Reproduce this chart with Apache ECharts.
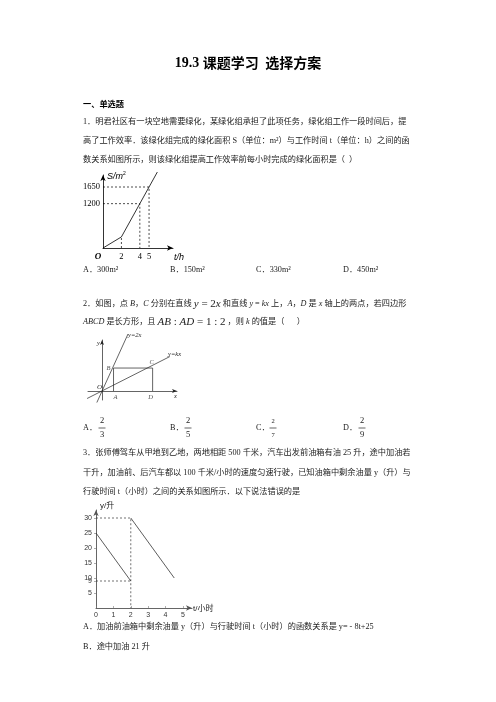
<!DOCTYPE html>
<html><head><meta charset="utf-8">
<script src="https://cdn.jsdelivr.net/npm/echarts@6/dist/echarts.min.js"></script>
<style>html,body{margin:0;padding:0;background:#fff}#c{width:496px;height:702px}</style>
</head><body><div id="c"></div>
<script>
// ---- Question 1 chart: S (m²) vs t (h)
const q1Hours = [0, 2, 4, 5, 5.9];
const q1Area = [0, 300, 1200, 1650, 2055];
const q1XTicks = [2, 4, 5];
const q1YTicks = [1200, 1650];
// ---- Question 2 figure
const q2LineY2xX = [-0.45, 2.26];
const q2LineY2xY = [-1.0, 4.96];
const q2LineYkxX = [-1.3, 5.9];
const q2LineYkxY = [-0.65, 3.0];
const q2PointNames = ['A', 'B', 'C', 'D'];
const q2PointX = [1, 1, 4.4, 4.4];
const q2PointY = [0, 2, 2, 0];
// ---- Question 3 chart: fuel y (升) vs time t (小时)
const q3HoursBefore = [0, 2];
const q3FuelBefore = [25, 9];
const q3HoursAfter = [2, 4.5];
const q3FuelAfter = [30, 10];
const q3XTicks = [0, 1, 2, 3, 4, 5];
const q3YTicks = [5, 9, 10, 15, 20, 25, 30];

const BODY = "'Liberation Serif','Noto Sans CJK SC'";
const CJK = "'Noto Sans CJK SC'";
const FS = 8.2;
const TXT = '#222';

function txt(x, y, text, extra) {
  return Object.assign({ type: 'text', x: x, y: y, silent: true,
    style: Object.assign({ text: text, fontSize: FS, fontFamily: BODY, fill: TXT, verticalAlign: 'middle', align: 'left' }, extra || {}) });
}
const richBase = {
  n: { fontSize: FS, fontFamily: BODY, fill: TXT },
  i: { fontSize: FS, fontFamily: "'Liberation Serif'", fontStyle: 'italic', fill: TXT },
  f: { fontSize: 11, fontFamily: "'Liberation Serif'", fontStyle: 'italic', fill: TXT },
  g: { fontSize: 11, fontFamily: "'Liberation Serif'", fill: TXT }
};
function rich(x, y, text) {
  return { type: 'text', x: x, y: y, silent: true,
    style: { text: text, rich: richBase, verticalAlign: 'middle', align: 'left', fontSize: FS, fontFamily: BODY, fill: TXT } };
}
function frac(cx, cy, num, den, size) {
  const s = size || 8.5;
  return [
    txt(cx, cy - 7, num, { align: 'center', fontSize: s, fontFamily: "'Liberation Serif'" }),
    { type: 'line', silent: true, shape: { x1: cx - 3.5, y1: cy, x2: cx + 3.5, y2: cy }, style: { stroke: TXT, lineWidth: 0.7 } },
    txt(cx, cy + 7, den, { align: 'center', fontSize: s, fontFamily: "'Liberation Serif'" })
  ];
}

const graphics = [
  { type: 'text', x: 248, y: 63, silent: true,
    style: { text: '{a|19.3 }{b|课题学习  选择方案}', align: 'center', verticalAlign: 'middle',
      rich: { a: { fontSize: 14, fontWeight: 'bold', fontFamily: "'Liberation Serif'", fill: '#000' },
              b: { fontSize: 14, fontWeight: 'bold', fontFamily: CJK, fill: '#000' } } } },
  txt(83, 104, '一、单选题', { fontWeight: 'bold', fontFamily: CJK, fill: '#000' }),
  txt(83, 121.5, '1．明君社区有一块空地需要绿化，某绿化组承担了此项任务，绿化组工作一段时间后，提'),
  txt(83, 140.5, '高了工作效率．该绿化组完成的绿化面积 S（单位：m²）与工作时间 t（单位：h）之间的函'),
  txt(83, 160, '数关系如图所示，则该绿化组提高工作效率前每小时完成的绿化面积是（  ）'),
  // chart 1 decorations
  txt(98, 257, 'O', { fontStyle: 'italic', fontWeight: 'bold', fontFamily: "'Liberation Serif'", fontSize: 9, align: 'center', fill: '#000' }),
  { type: 'text', x: 107, y: 176, silent: true, style: { text: '{s|S/m}{p|2}', verticalAlign: 'middle',
      rich: { s: { fontSize: 9, fontStyle: 'italic', fontFamily: "'Liberation Sans'", fill: '#000' },
              p: { fontSize: 5, fontFamily: "'Liberation Sans'", fill: '#000', verticalAlign: 'top', padding: [0, 0, 5, 0] } } } },
  txt(174, 257, 't/h', { fontStyle: 'italic', fontFamily: "'Liberation Sans'", fontSize: 9, fill: '#000' }),
  // Q1 options
  txt(83, 270, 'A．300m²'), txt(170, 270, 'B．150m²'), txt(256, 270, 'C．330m²'), txt(343, 270, 'D．450m²'),
  // Q2 text
  rich(83, 304, '{n|2．如图，点 }{i|B}{n|，}{i|C}{n| 分别在直线 }{f|y}{g| = 2}{f|x}{n| 和直线 }{i|y}{n| = }{i|kx}{n| 上，}{i|A}{n|，}{i|D}{n| 是 }{i|x}{n| 轴上的两点，若四边形}'),
  rich(83, 322, '{i|ABCD}{n| 是长方形，且 }{f|AB}{g| : }{f|AD}{g| = 1 : 2}{n| ，则 }{i|k}{n| 的值是（      ）}'),
  // chart 2 line labels
  txt(128, 335, 'y=2x', { fontStyle: 'italic', fontFamily: "'Liberation Serif'", fontSize: 6.5 }),
  txt(168, 354, 'y=kx', { fontStyle: 'italic', fontFamily: "'Liberation Serif'", fontSize: 6.5 }),
  txt(97, 343, 'y', { fontStyle: 'italic', fontFamily: "'Liberation Serif'", fontSize: 6.5 }),
  txt(174, 396, 'x', { fontStyle: 'italic', fontFamily: "'Liberation Serif'", fontSize: 6.5 }),
  txt(97, 387, 'O', { fontStyle: 'italic', fontFamily: "'Liberation Serif'", fontSize: 7 }),
  // Q2 options
  txt(83, 428, 'A．'), txt(170, 428, 'B．'), txt(256, 428, 'C．'), txt(343, 428, 'D．'),
  ...frac(102, 428, '2', '3'), ...frac(188, 428, '2', '5'), ...frac(273, 428, '2', '7', 6.5), ...frac(362, 428, '2', '9'),
  // Q3 text
  txt(83, 453, '3．张师傅驾车从甲地到乙地，两地相距 500 千米，汽车出发前油箱有油 25 升，途中加油若'),
  txt(83, 473, '干升，加油前、后汽车都以 100 千米/小时的速度匀速行驶，已知油箱中剩余油量 y（升）与'),
  txt(83, 492, '行驶时间 t（小时）之间的关系如图所示．以下说法错误的是'),
  txt(100, 506, 'y/升', { fontFamily: "'Liberation Sans','Noto Sans CJK SC'", fontSize: 8 }),
  txt(193, 609, 't/小时', { fontFamily: "'Liberation Sans','Noto Sans CJK SC'", fontSize: 8 }),
  txt(83, 627, 'A．加油前油箱中剩余油量 y（升）与行驶时间 t（小时）的函数关系是 y= - 8t+25'),
  txt(83, 647, 'B．途中加油 21 升')
];

const axBlack = { lineStyle: { color: '#000', width: 0.8 }, symbol: ['none', 'arrow'], symbolSize: [4, 6] };
const q1Pts = q1Hours.map((t, i) => [t, q1Area[i]]);
const q1Guides = [];
q1XTicks.forEach(function (t) {
  const i = q1Hours.indexOf(t);
  const seg = (q1YTicks.indexOf(q1Area[i]) >= 0) ? [[0, q1Area[i]], [t, q1Area[i]], [t, 0]] : [[t, 0], [t, q1Area[i]]];
  q1Guides.push(seg);
});
const dashStyle = { color: '#000', width: 0.7, type: [2, 2] };
const q3Dash = { color: '#333', width: 0.7, type: [2, 2] };
const plain = function (v) { return String(v); };

const series = [];
series.push({ type: 'line', xAxisIndex: 0, yAxisIndex: 0, data: q1Pts, symbol: 'none', clip: false, lineStyle: { color: '#000', width: 0.8 }, silent: true });
q1Guides.forEach(function (g) {
  series.push({ type: 'line', xAxisIndex: 0, yAxisIndex: 0, data: g, symbol: 'none', lineStyle: dashStyle, silent: true });
});
// chart 2
series.push({ type: 'line', xAxisIndex: 1, yAxisIndex: 1, data: q2LineY2xX.map((x, i) => [x, q2LineY2xY[i]]), symbol: 'none', clip: false, lineStyle: { color: '#222', width: 0.7 }, silent: true });
series.push({ type: 'line', xAxisIndex: 1, yAxisIndex: 1, data: q2LineYkxX.map((x, i) => [x, q2LineYkxY[i]]), symbol: 'none', clip: false, lineStyle: { color: '#222', width: 0.7 }, silent: true });
series.push({ type: 'line', xAxisIndex: 1, yAxisIndex: 1, data: q2PointX.map((x, i) => [x, q2PointY[i]]), symbol: 'none', clip: false, lineStyle: { color: '#222', width: 0.7 }, silent: true });
const q2LabelPos = { A: [2, 6], B: [-5, 0], C: [-1, -6], D: [-2, 6] };
series.push({ type: 'scatter', xAxisIndex: 1, yAxisIndex: 1, symbolSize: 0, silent: true,
  data: q2PointNames.map((n, i) => ({ value: [q2PointX[i], q2PointY[i]], name: n,
    label: { show: true, formatter: n, position: 'inside', offset: q2LabelPos[n], fontSize: 6.5, fontStyle: 'italic', fontFamily: 'Liberation Serif', color: '#222' } })) });
// chart 3
series.push({ type: 'line', xAxisIndex: 2, yAxisIndex: 2, data: q3HoursBefore.map((t, i) => [t, q3FuelBefore[i]]), symbol: 'none', lineStyle: { color: '#333', width: 0.8 }, silent: true });
series.push({ type: 'line', xAxisIndex: 2, yAxisIndex: 2, data: q3HoursAfter.map((t, i) => [t, q3FuelAfter[i]]), symbol: 'none', lineStyle: { color: '#333', width: 0.8 }, silent: true });
series.push({ type: 'line', xAxisIndex: 2, yAxisIndex: 2, data: [[0, q3FuelAfter[0]], [q3HoursAfter[0], q3FuelAfter[0]], [q3HoursAfter[0], 0]], symbol: 'none', lineStyle: q3Dash, silent: true });
series.push({ type: 'line', xAxisIndex: 2, yAxisIndex: 2, data: [[0, q3FuelBefore[1]], [q3HoursBefore[1], q3FuelBefore[1]]], symbol: 'none', lineStyle: q3Dash, silent: true });

const option = {
  animation: false,
  backgroundColor: '#fff',
  grid: [
    { left: 103, top: 175, width: 70, height: 73 },
    { left: 88, top: 340, width: 89, height: 60 },
    { left: 96, top: 510, width: 96, height: 98 }
  ],
  xAxis: [
    { gridIndex: 0, type: 'value', min: 0, max: 7.6, axisLine: axBlack, axisTick: { show: false }, splitLine: { show: false },
      axisLabel: { customValues: q1XTicks, formatter: plain, fontSize: 8.5, fontFamily: 'Liberation Serif', color: '#000', margin: 4 } },
    { gridIndex: 1, type: 'value', min: -1.22, max: 6.52, axisLine: { onZero: true, lineStyle: { color: '#222', width: 0.7 }, symbol: ['none', 'arrow'], symbolSize: [3, 5] },
      axisTick: { show: false }, splitLine: { show: false }, axisLabel: { show: false } },
    { gridIndex: 2, type: 'value', min: 0, max: 5.52, axisLine: { lineStyle: { color: '#555', width: 0.9 }, symbol: ['none', 'arrow'], symbolSize: [4, 6] },
      axisTick: { customValues: q3XTicks, inside: true, length: 2, lineStyle: { color: '#777', width: 0.6 } }, splitLine: { show: false },
      axisLabel: { customValues: q3XTicks, formatter: plain, fontSize: 7, fontFamily: 'Liberation Sans', color: '#333', margin: 4 } }
  ],
  yAxis: [
    { gridIndex: 0, type: 'value', min: 0, max: 1975, axisLine: axBlack, axisTick: { show: false }, splitLine: { show: false },
      axisLabel: { customValues: q1YTicks, formatter: plain, fontSize: 8.5, fontFamily: 'Liberation Serif', color: '#000', margin: 3 } },
    { gridIndex: 1, type: 'value', min: -0.78, max: 4.44, axisLine: { onZero: true, lineStyle: { color: '#222', width: 0.7 }, symbol: ['none', 'arrow'], symbolSize: [3, 5] },
      axisTick: { show: false }, splitLine: { show: false }, axisLabel: { show: false } },
    { gridIndex: 2, type: 'value', min: 0, max: 32.67, axisLine: { lineStyle: { color: '#555', width: 0.9 }, symbol: ['none', 'arrow'], symbolSize: [4, 6] },
      axisTick: { customValues: q3YTicks, length: 2, lineStyle: { color: '#777', width: 0.6 } }, splitLine: { show: false },
      axisLabel: { customValues: q3YTicks, formatter: plain, fontSize: 7, fontFamily: 'Liberation Sans', color: '#333', margin: 4 } }
  ],
  series: series,
  graphic: graphics
};
const chart = echarts.init(document.getElementById('c'), null, { renderer: 'canvas' });
chart.setOption(option);
</script></body></html>
